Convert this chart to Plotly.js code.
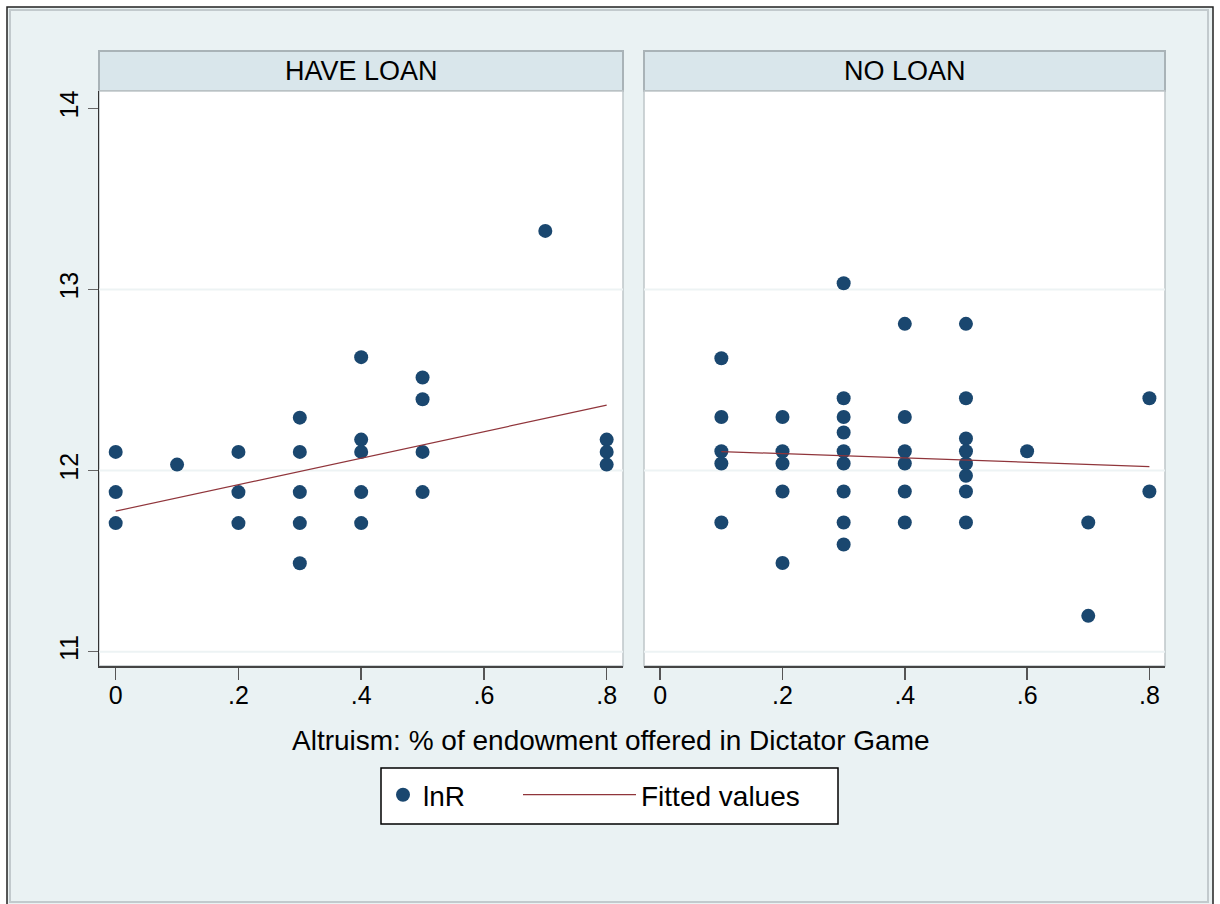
<!DOCTYPE html>
<html>
<head>
<meta charset="utf-8">
<script src="https://cdn.plot.ly/plotly-3.0.1.min.js"></script>
<style>html,body{margin:0;padding:0;background:#fff;}#chart{width:1220px;height:904px;}</style>
</head>
<body>
<div id="chart"></div>
<script>
// ---- data ----
const panelTitles = ["HAVE LOAN", "NO LOAN"];
const xTickVals = [0, 0.2, 0.4, 0.6, 0.8];
const xTickText = ["0", ".2", ".4", ".6", ".8"];
const yTickVals = [11, 12, 13, 14];
const yTickText = ["11", "12", "13", "14"];
const gridVals = [11, 12, 13];

// HAVE LOAN panel
const loanX = [0, 0, 0, 0.1, 0.2, 0.2, 0.2, 0.3, 0.3, 0.3, 0.3, 0.3,
               0.4, 0.4, 0.4, 0.4, 0.4, 0.5, 0.5, 0.5, 0.5, 0.7, 0.8, 0.8, 0.8];
const loanY = [12.103, 11.881, 11.710, 12.033, 12.103, 11.881, 11.710,
               12.292, 12.103, 11.881, 11.710, 11.488,
               12.626, 12.171, 12.103, 11.881, 11.710,
               12.514, 12.394, 12.103, 11.881, 13.323, 12.171, 12.103, 12.033];
const loanFitX = [0, 0.8];
const loanFitY = [11.776, 12.361];

// NO LOAN panel
const noLoanX = [0.1, 0.1, 0.1, 0.1, 0.1,
                 0.2, 0.2, 0.2, 0.2, 0.2,
                 0.3, 0.3, 0.3, 0.3, 0.3, 0.3, 0.3, 0.3, 0.3,
                 0.4, 0.4, 0.4, 0.4, 0.4, 0.4,
                 0.5, 0.5, 0.5, 0.5, 0.5, 0.5, 0.5, 0.5,
                 0.6, 0.7, 0.7, 0.8, 0.8];
const noLoanY = [12.620, 12.296, 12.107, 12.039, 11.713,
                 12.296, 12.107, 12.039, 11.884, 11.490,
                 13.034, 12.399, 12.296, 12.210, 12.107, 12.039, 11.884, 11.713, 11.592,
                 12.810, 12.296, 12.107, 12.039, 11.884, 11.713,
                 12.810, 12.399, 12.177, 12.107, 12.039, 11.971, 11.884, 11.713,
                 12.107, 11.713, 11.198, 12.399, 11.884];
const noLoanFitX = [0.1, 0.8];
const noLoanFitY = [12.105, 12.022];

const seriesNames = ["lnR", "Fitted values"];
const xTitle = "Altruism: % of endowment offered in Dictator Game";

// ---- styling ----
const W = 1220, H = 904;
const FONT = "Liberation Sans, Arial, Helvetica, sans-serif";
const navy = "#1A476F", maroon = "#90353B";
const bg = "#EAF2F3";
const px = v => v / W;
const py = v => 1 - v / H;

const markerStyle = {color: navy, size: 14, line: {width: 0}};
const lineStyle = {color: maroon, width: 1.2};

const traces = [
  {type: "scatter", mode: "markers", x: loanX, y: loanY, xaxis: "x", yaxis: "y",
   name: seriesNames[0], marker: markerStyle, legend: "legend"},
  {type: "scatter", mode: "lines", x: loanFitX, y: loanFitY, xaxis: "x", yaxis: "y",
   name: seriesNames[1], line: lineStyle, legend: "legend2"},
  {type: "scatter", mode: "markers", x: noLoanX, y: noLoanY, xaxis: "x2", yaxis: "y",
   name: seriesNames[0], marker: markerStyle, showlegend: false},
  {type: "scatter", mode: "lines", x: noLoanFitX, y: noLoanFitY, xaxis: "x2", yaxis: "y",
   name: seriesNames[1], line: lineStyle, showlegend: false}
];

const xAxisBase = {
  tickvals: xTickVals, ticktext: xTickText, ticks: "outside", ticklen: 12, tickwidth: 1.5,
  tickcolor: "#555", showline: true, linecolor: "#444", linewidth: 1.5,
  showgrid: false, zeroline: false, anchor: "y", fixedrange: true,
  tickfont: {family: FONT, size: 25, color: "#000"}, ticklabelstandoff: -6
};

const panels = [["x", "x domain"], ["x2", "x2 domain"]];
const shapes = [
  // graph region
  {type: "rect", xref: "paper", yref: "paper", x0: px(7), x1: px(1213), y0: py(915), y1: py(7),
   fillcolor: bg, line: {color: "#222", width: 1.5}, layer: "below"},
  {type: "rect", xref: "paper", yref: "paper", x0: px(10), x1: px(1208), y0: py(902), y1: py(10),
   fillcolor: "rgba(0,0,0,0)", line: {color: "#C2CACD", width: 2}, layer: "below"},
  // legend box
  {type: "rect", xref: "paper", yref: "paper", x0: px(381), x1: px(838), y0: py(824), y1: py(768),
   fillcolor: "#FFFFFF", line: {color: "#000", width: 1.5}, layer: "below"}
];
const annotations = [];
panels.forEach(([ax, dom], i) => {
  shapes.push({type: "rect", xref: dom, yref: "paper", x0: 0, x1: 1, y0: py(91), y1: py(51),
    fillcolor: "#D9E6EB", line: {color: "#A9B3B7", width: 2}, layer: "below"});
  shapes.push({type: "rect", xref: dom, yref: "y domain", x0: 0, x1: 1, y0: 0, y1: 1,
    fillcolor: "#FFFFFF", line: {color: "#BFC6C9", width: 1.5}, layer: "below"});
  gridVals.forEach(g => shapes.push({type: "line", xref: dom, yref: "y", x0: 0, x1: 1, y0: g, y1: g,
    line: {color: "#EDF3F4", width: 2}, layer: "below"}));
  annotations.push({xref: dom, yref: "paper", x: 0.5, y: py(71), text: panelTitles[i],
    showarrow: false, xanchor: "center", yanchor: "middle",
    font: {family: FONT, size: 27, color: "#000"}});
});
annotations.push({xref: "paper", yref: "paper", x: px(611), y: py(740), text: xTitle,
  showarrow: false, xanchor: "center", yanchor: "middle",
  font: {family: FONT, size: 28, color: "#000"}});

const legendBase = {
  orientation: "h", xanchor: "left", yanchor: "top", y: py(770),
  bgcolor: "rgba(0,0,0,0)", borderwidth: 0,
  font: {family: FONT, size: 28, color: "#000"}
};

const layout = {
  width: W, height: H,
  margin: {l: 0, r: 0, t: 0, b: 0, autoexpand: false},
  paper_bgcolor: "#FFFFFF", plot_bgcolor: "rgba(0,0,0,0)",
  font: {family: FONT, color: "#000"},
  showlegend: true,
  xaxis: Object.assign({}, xAxisBase, {domain: [px(99), px(623)], range: [-0.0272, 0.8266]}),
  xaxis2: Object.assign({}, xAxisBase, {domain: [px(644), px(1165)], range: [-0.0265, 0.8255]}),
  yaxis: {
    domain: [py(666), py(91)], range: [10.921, 14.0955], anchor: "x",
    tickvals: yTickVals, ticktext: yTickText, ticks: "outside", ticklen: 10, tickwidth: 1.5,
    tickcolor: "#666", tickangle: -90, showline: true, linecolor: "#333", linewidth: 1.5,
    showgrid: false, zeroline: false, fixedrange: true, ticklabelstandoff: 0,
    tickfont: {family: FONT, size: 25, color: "#000"}
  },
  legend: Object.assign({}, legendBase, {x: px(383), itemwidth: 30}),
  legend2: Object.assign({}, legendBase, {x: px(518), itemwidth: 113}),
  shapes: shapes,
  annotations: annotations
};

Plotly.newPlot("chart", traces, layout, {displayModeBar: false, staticPlot: true});
</script>
</body>
</html>
